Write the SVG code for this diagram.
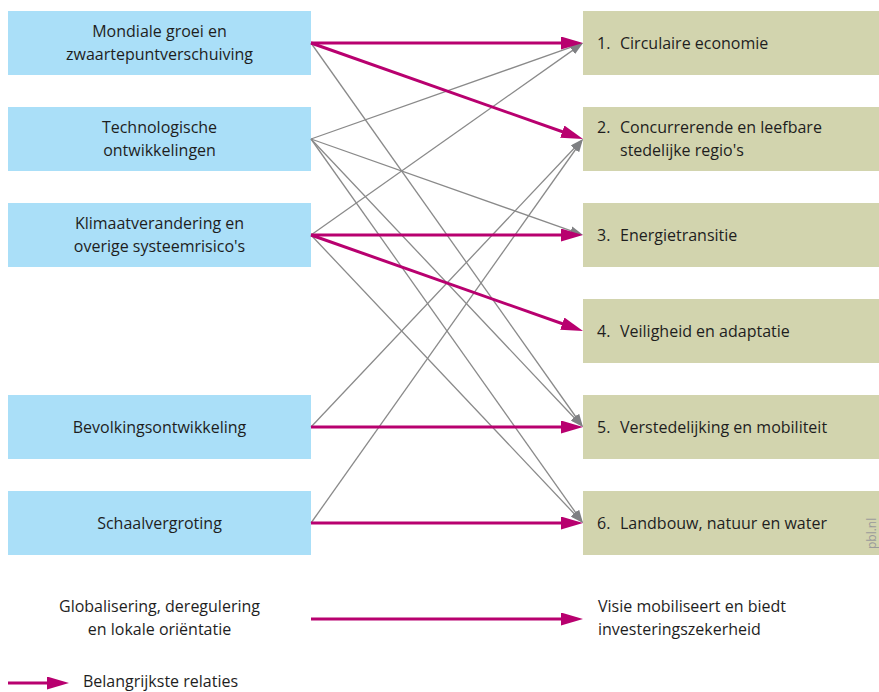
<svg xmlns="http://www.w3.org/2000/svg" width="879" height="692" viewBox="0 0 879 692">
  <style>
    .src { fill: #aadff8; }
    .dst { fill: #d2d4ae; }
    text { font-family: "Open Sans", "Liberation Sans", sans-serif; font-size: 16px; fill: #1e1e1e; }
    .c { text-anchor: middle; }
    .main { stroke: #b8006f; stroke-width: 3; fill: none; marker-end: url(#headMain); }
    .minor { stroke: #8a8a8a; stroke-width: 1.3; fill: none; marker-end: url(#headMinor); }
    .mark { font-size: 12px; fill: #9a9a9a; }
  </style>
  <defs>
    <marker id="headMain" markerUnits="userSpaceOnUse" markerWidth="22" markerHeight="13" refX="10" refY="6.5" orient="auto">
      <path d="M0,0 L22,6.5 L0,13 Z" fill="#b8006f"/>
    </marker>
    <marker id="headMinor" markerUnits="userSpaceOnUse" markerWidth="13" markerHeight="9" refX="5" refY="4.5" orient="auto">
      <path d="M0,0 L13,4.5 L0,9 Z" fill="#7f8083"/>
    </marker>
  </defs>

  <rect width="879" height="692" fill="#ffffff"/>

  <!-- drivers -->
  <g id="n-mondiale">
    <rect class="src" x="8" y="11" width="303" height="64"/>
    <text class="c" x="159.5" y="37">Mondiale groei en</text>
    <text class="c" x="159.5" y="60">zwaartepuntverschuiving</text>
  </g>
  <g id="n-technologie">
    <rect class="src" x="8" y="107" width="303" height="64"/>
    <text class="c" x="159.5" y="133">Technologische</text>
    <text class="c" x="159.5" y="156">ontwikkelingen</text>
  </g>
  <g id="n-klimaat">
    <rect class="src" x="8" y="203" width="303" height="64"/>
    <text class="c" x="159.5" y="229">Klimaatverandering en</text>
    <text class="c" x="159.5" y="252">overige systeemrisico's</text>
  </g>
  <g id="n-bevolking">
    <rect class="src" x="8" y="395" width="303" height="64"/>
    <text class="c" x="159.5" y="433">Bevolkingsontwikkeling</text>
  </g>
  <g id="n-schaal">
    <rect class="src" x="8" y="491" width="303" height="64"/>
    <text class="c" x="159.5" y="529">Schaalvergroting</text>
  </g>

  <!-- themes -->
  <g id="t-circulair">
    <rect class="dst" x="583" y="11" width="296" height="64"/>
    <text x="597" y="49">1.</text>
    <text x="620" y="49">Circulaire economie</text>
  </g>
  <g id="t-regio">
    <rect class="dst" x="583" y="107" width="296" height="64"/>
    <text x="597" y="133">2.</text>
    <text x="620" y="133">Concurrerende en leefbare</text>
    <text x="620" y="156">stedelijke regio's</text>
  </g>
  <g id="t-energie">
    <rect class="dst" x="583" y="203" width="296" height="64"/>
    <text x="597" y="241">3.</text>
    <text x="620" y="241">Energietransitie</text>
  </g>
  <g id="t-veiligheid">
    <rect class="dst" x="583" y="299" width="296" height="64"/>
    <text x="597" y="337">4.</text>
    <text x="620" y="337">Veiligheid en adaptatie</text>
  </g>
  <g id="t-mobiliteit">
    <rect class="dst" x="583" y="395" width="296" height="64"/>
    <text x="597" y="433">5.</text>
    <text x="620" y="433">Verstedelijking en mobiliteit</text>
  </g>
  <g id="t-landbouw">
    <rect class="dst" x="583" y="491" width="296" height="64"/>
    <text x="597" y="529">6.</text>
    <text x="620" y="529">Landbouw, natuur en water</text>
    <text class="mark" x="0" y="0" transform="translate(876,549) rotate(-90)">pbl.nl</text>
  </g>

  <!-- connectors -->
  <g id="connectors">
    <!-- secondary relations -->
    <line class="minor" x1="311" y1="43" x2="578.4" y2="420.5"/>
    <line class="minor" x1="311" y1="139" x2="575.5" y2="45.7"/>
    <line class="minor" x1="311" y1="139" x2="575.5" y2="232.3"/>
    <line class="minor" x1="311" y1="139" x2="577.5" y2="421.2"/>
    <line class="minor" x1="311" y1="139" x2="578.4" y2="516.5"/>
    <line class="minor" x1="311" y1="235" x2="576.5" y2="47.6"/>
    <line class="minor" x1="311" y1="235" x2="577.5" y2="517.2"/>
    <line class="minor" x1="311" y1="427" x2="577.5" y2="144.8"/>
    <line class="minor" x1="311" y1="523" x2="578.4" y2="145.5"/>
    <!-- key relations -->
    <line class="main" x1="311" y1="43" x2="571" y2="43"/>
    <line class="main" x1="311" y1="43" x2="571.7" y2="135"/>
    <line class="main" x1="311" y1="235" x2="571" y2="235"/>
    <line class="main" x1="311" y1="235" x2="571.7" y2="327"/>
    <line class="main" x1="311" y1="427" x2="571" y2="427"/>
    <line class="main" x1="311" y1="523" x2="571" y2="523"/>
  </g>

  <!-- scenario row -->
  <g id="n-globalisering">
    <text class="c" x="159.5" y="612">Globalisering, deregulering</text>
    <text class="c" x="159.5" y="635">en lokale oriëntatie</text>
  </g>
  <g id="t-visie">
    <text x="598" y="612">Visie mobiliseert en biedt</text>
    <text x="598" y="635">investeringszekerheid</text>
  </g>
  <g id="scenario-link">
    <line class="main" x1="311" y1="619" x2="571" y2="619"/>
  </g>

  <!-- legend -->
  <g id="legend">
    <line class="main" x1="8" y1="683" x2="57" y2="683"/>
    <text x="83" y="687">Belangrijkste relaties</text>
  </g>
</svg>
